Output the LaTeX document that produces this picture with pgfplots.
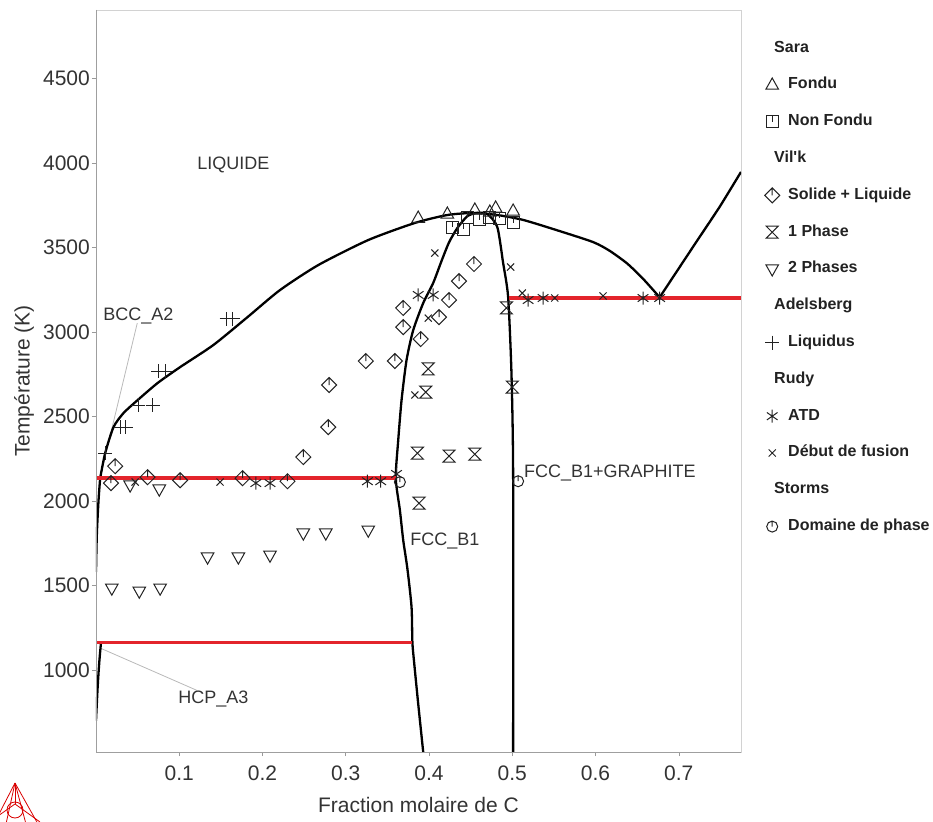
\documentclass[border=0pt]{standalone}
\usepackage{fontspec}
\setmainfont{Liberation Sans}
\usepackage{pgfplots}
\pgfplotsset{compat=1.18}
\definecolor{mkcol}{HTML}{222222}
\definecolor{txtcol}{HTML}{333333}
\definecolor{redl}{HTML}{E3242B}

\pgfdeclareplotmark{diamtick}{%
  \pgfpathmoveto{\pgfqpoint{0pt}{\pgfplotmarksize}}%
  \pgfpathlineto{\pgfqpoint{\pgfplotmarksize}{0pt}}%
  \pgfpathlineto{\pgfqpoint{0pt}{-\pgfplotmarksize}}%
  \pgfpathlineto{\pgfqpoint{-\pgfplotmarksize}{0pt}}%
  \pgfpathclose
  \pgfpathmoveto{\pgfqpoint{0pt}{\pgfplotmarksize}}%
  \pgfpathlineto{\pgfqpoint{0pt}{0pt}}%
  \pgfusepathqstroke}
\pgfdeclareplotmark{sqtick}{%
  \pgfpathrectanglecorners{\pgfqpoint{-\pgfplotmarksize}{-\pgfplotmarksize}}{\pgfqpoint{\pgfplotmarksize}{\pgfplotmarksize}}%
  \pgfpathmoveto{\pgfqpoint{0pt}{\pgfplotmarksize}}%
  \pgfpathlineto{\pgfqpoint{0pt}{0pt}}%
  \pgfusepathqstroke}
\pgfdeclareplotmark{circtick}{%
  \pgfpathcircle{\pgfpointorigin}{\pgfplotmarksize}%
  \pgfpathmoveto{\pgfqpoint{0pt}{\pgfplotmarksize}}%
  \pgfpathlineto{\pgfqpoint{0pt}{0pt}}%
  \pgfusepathqstroke}
\pgfdeclareplotmark{triup}{%
  \pgfpathmoveto{\pgfqpoint{0pt}{\pgfplotmarksize}}%
  \pgfpathlineto{\pgfqpoint{0.9\pgfplotmarksize}{-0.6\pgfplotmarksize}}%
  \pgfpathlineto{\pgfqpoint{-0.9\pgfplotmarksize}{-0.6\pgfplotmarksize}}%
  \pgfpathclose
  \pgfusepathqstroke}
\pgfdeclareplotmark{tridown}{%
  \pgfpathmoveto{\pgfqpoint{0pt}{-\pgfplotmarksize}}%
  \pgfpathlineto{\pgfqpoint{0.9\pgfplotmarksize}{0.6\pgfplotmarksize}}%
  \pgfpathlineto{\pgfqpoint{-0.9\pgfplotmarksize}{0.6\pgfplotmarksize}}%
  \pgfpathclose
  \pgfusepathqstroke}
\pgfdeclareplotmark{hourglass}{%
  \pgfpathmoveto{\pgfqpoint{-\pgfplotmarksize}{\pgfplotmarksize}}%
  \pgfpathlineto{\pgfqpoint{\pgfplotmarksize}{\pgfplotmarksize}}%
  \pgfpathlineto{\pgfqpoint{-\pgfplotmarksize}{-\pgfplotmarksize}}%
  \pgfpathlineto{\pgfqpoint{\pgfplotmarksize}{-\pgfplotmarksize}}%
  \pgfpathclose
  \pgfusepathqstroke}
\pgfdeclareplotmark{astk}{%
  \pgfpathmoveto{\pgfqpoint{0pt}{\pgfplotmarksize}}%
  \pgfpathlineto{\pgfqpoint{0pt}{-\pgfplotmarksize}}%
  \pgfpathmoveto{\pgfqpointpolar{35}{\pgfplotmarksize}}%
  \pgfpathlineto{\pgfqpointpolar{215}{\pgfplotmarksize}}%
  \pgfpathmoveto{\pgfqpointpolar{145}{\pgfplotmarksize}}%
  \pgfpathlineto{\pgfqpointpolar{325}{\pgfplotmarksize}}%
  \pgfusepathqstroke}

\begin{document}
\begin{tikzpicture}
\useasboundingbox (-96pt,-69pt) rectangle (837pt,752pt);
\begin{axis}[
  at={(0,0)}, anchor=south west,
  scale only axis, width=645pt, height=742pt,
  xmin=0, xmax=0.7747, ymin=515, ymax=4905,
  xtick={0.1,0.2,0.3,0.4,0.5,0.6,0.7},
  ytick={1000,1500,2000,2500,3000,3500,4000,4500},
  xtick pos=bottom, ytick pos=left,
  scaled ticks=false,
  /pgf/number format/assume math mode=true,
  /pgf/number format/1000 sep={},
  xticklabel style={/pgf/number format/fixed,/pgf/number format/precision=1,yshift=-8pt},
  ticklabel style={font=\fontsize{21}{25}\selectfont, text=txtcol, inner sep=2pt},
  tick align=outside, major tick length=4pt,
  tick style={draw=gray!80, line width=0.6pt},
  axis line style={draw=gray!35, line width=0.8pt},
  xlabel={Fraction molaire de C},
  ylabel={Température (K)},
  every axis x label/.style={at={(axis description cs:0.5,-0.0714)}, anchor=center, font=\fontsize{21}{25}\selectfont, text=txtcol},
  every axis y label/.style={at={(axis description cs:-0.1116,0.5)}, anchor=center, rotate=90, font=\fontsize{21}{25}\selectfont, text=txtcol},
  legend image code/.code={\draw[#1] plot coordinates {(0pt,0pt)};},
  legend style={at={(axis description cs:1,1)}, anchor=north west, xshift=23.5pt, yshift=-30pt,
    draw=none, fill=none, inner sep=0pt, row sep=20.8pt, column sep=8.5pt,
    font=\fontsize{16}{19}\selectfont\bfseries, text=mkcol,
    nodes={inner sep=0pt, text height=12pt, text depth=4pt}},
  legend cell align=left,
  mk/.style={only marks, draw=mkcol, mark options={solid, draw=mkcol, line width=1pt, fill=none}},
]
% gray annotation leaders
\addplot[gray!55, line width=0.8pt, forget plot] coordinates {(0.0496,3053) (0.005,2141)};
\addplot[gray!55, line width=0.8pt, forget plot] coordinates {(0.005,1130) (0.121,880)};
% phase boundaries
\addplot[black, line width=2.3pt, forget plot, smooth, tension=0.4] coordinates {
(0.005,2135) (0.011,2283) (0.021,2437) (0.033,2520) (0.050,2597) (0.074,2698) (0.101,2792)
(0.141,2923) (0.182,3088) (0.221,3248) (0.267,3396) (0.327,3544) (0.383,3645) (0.422,3692)
(0.453,3704) (0.482,3692) (0.513,3663) (0.553,3603) (0.597,3532) (0.617,3480) (0.638,3405)
(0.657,3315) (0.677,3205)};
\addplot[black, line width=2.3pt, forget plot, smooth, tension=0.3] coordinates {
(0.677,3205) (0.717,3503) (0.749,3740) (0.7747,3947)};
\addplot[black, line width=2.3pt, forget plot, smooth, tension=0.4] coordinates {
(0.393,515) (0.387,800) (0.382,1050) (0.380,1164) (0.379,1372) (0.374,1600) (0.369,1768)
(0.365,1946) (0.360,2135) (0.363,2360) (0.367,2597) (0.373,2834) (0.381,3011) (0.393,3171)
(0.405,3290) (0.415,3420) (0.424,3530) (0.434,3615) (0.446,3685) (0.458,3705) (0.470,3698)
(0.482,3621) (0.489,3408) (0.495,3207) (0.499,2757) (0.501,2165) (0.501,515)};
\addplot[black, line width=2.3pt, forget plot, smooth] coordinates {
(0.0,1580) (0.001,1800) (0.003,2000) (0.005,2135)};
\addplot[black, line width=2.3pt, forget plot, smooth] coordinates {
(0.0,700) (0.002,900) (0.004,1050) (0.006,1162)};
% red invariant lines
\addplot[redl, line width=3.4pt, forget plot] coordinates {(0,1162) (0.380,1162)};
\addplot[redl, line width=3.4pt, forget plot] coordinates {(0,2135) (0.360,2135)};
\addplot[redl, line width=3.4pt, forget plot] coordinates {(0.496,3202) (0.7747,3202)};
% data
\addlegendimage{empty legend}\addlegendentry{\hspace*{-14pt}Sara}
\addplot[mk, mark=triup, mark size=7pt] coordinates {
(0.387,3674) (0.422,3698) (0.455,3722) (0.473,3710) (0.480,3734) (0.501,3716)};
\addlegendentry{Fondu}
\addplot[mk, mark=sqtick, mark size=6pt] coordinates {
(0.428,3621) (0.441,3609) (0.446,3680) (0.461,3663) (0.473,3680) (0.485,3674) (0.501,3645)};
\addlegendentry{Non Fondu}
\addlegendimage{empty legend}\addlegendentry{\hspace*{-14pt}Vil\textquotesingle k}
\addplot[mk, mark=diamtick, mark size=7.5pt] coordinates {
(0.018,2106) (0.023,2206) (0.062,2141) (0.101,2123) (0.176,2135) (0.230,2117) (0.249,2260)
(0.279,2437) (0.280,2686) (0.324,2828) (0.359,2828) (0.369,3029) (0.369,3142) (0.390,2958)
(0.412,3088) (0.424,3189) (0.436,3301) (0.454,3402)};
\addlegendentry{Solide + Liquide}
\addplot[mk, mark=hourglass, mark size=6pt] coordinates {
(0.399,2781) (0.396,2644) (0.386,2283) (0.424,2266) (0.455,2277) (0.388,1987) (0.493,3142) (0.500,2674)};
\addlegendentry{1 Phase}
\addplot[mk, mark=tridown, mark size=7pt] coordinates {
(0.041,2094) (0.076,2070) (0.019,1484) (0.052,1466) (0.077,1484) (0.134,1668) (0.171,1668)
(0.209,1679) (0.249,1810) (0.276,1810) (0.327,1827)};
\addlegendentry{2 Phases}
\addlegendimage{empty legend}\addlegendentry{\hspace*{-14pt}Adelsberg}
\addplot[mk, mark=+, mark size=7pt] coordinates {
(0.011,2283) (0.030,2437) (0.036,2437) (0.051,2567) (0.068,2567) (0.075,2769) (0.083,2769)
(0.157,3077) (0.164,3077)};
\addlegendentry{Liquidus}
\addlegendimage{empty legend}\addlegendentry{\hspace*{-14pt}Rudy}
\addplot[mk, mark=astk, mark size=6.5pt] coordinates {
(0.192,2106) (0.209,2106) (0.326,2117) (0.342,2117) (0.361,2160) (0.387,3219) (0.405,3219)
(0.519,3189) (0.537,3201) (0.657,3201) (0.677,3201)};
\addlegendentry{ATD}
\addplot[mk, mark=x, mark size=5pt] coordinates {
(0.047,2112) (0.149,2112) (0.407,3467) (0.399,3082) (0.383,2627) (0.498,3384) (0.512,3230)
(0.551,3201) (0.609,3213)};
\addlegendentry{Début de fusion}
\addlegendimage{empty legend}\addlegendentry{\hspace*{-14pt}Storms}
\addplot[mk, mark=circtick, mark size=5.5pt] coordinates {(0.365,2112) (0.507,2117)};
\addlegendentry{Domaine de phase}
% region labels
\node[font=\fontsize{18}{21}\selectfont, text=txtcol] at (axis cs:0.165,3988) {LIQUIDE};
\node[font=\fontsize{18}{21}\selectfont, text=txtcol] at (axis cs:0.051,3095) {BCC\_A2};
\node[font=\fontsize{18}{21}\selectfont, text=txtcol] at (axis cs:0.141,827) {HCP\_A3};
\node[font=\fontsize{18}{21}\selectfont, text=txtcol] at (axis cs:0.419,1762) {FCC\_B1};
\node[font=\fontsize{18}{21}\selectfont, text=txtcol, anchor=west, inner sep=0pt] at (axis cs:0.514,2165) {FCC\_B1+GRAPHITE};
% left and bottom axis lines darker
\draw[gray!75, line width=0.8pt] (rel axis cs:0,1) -- (rel axis cs:0,0) -- (rel axis cs:1,0);
\end{axis}
% logo
\begin{scope}[draw=red!85!black, line width=0.8pt]
\draw (-81pt,-31pt) -- (-98pt,-64pt);
\draw (-81pt,-31pt) -- (-58pt,-72pt);
\draw (-81pt,-31pt) -- (-81pt,-52pt);
\draw (-98pt,-64pt) -- (-81pt,-52pt) -- (-56pt,-70pt);
\draw (-81pt,-31pt) -- (-90pt,-72pt);
\draw (-81pt,-31pt) -- (-70pt,-72pt);
\draw (-81pt,-58pt) circle (8pt);
\end{scope}
\end{tikzpicture}
\end{document}
